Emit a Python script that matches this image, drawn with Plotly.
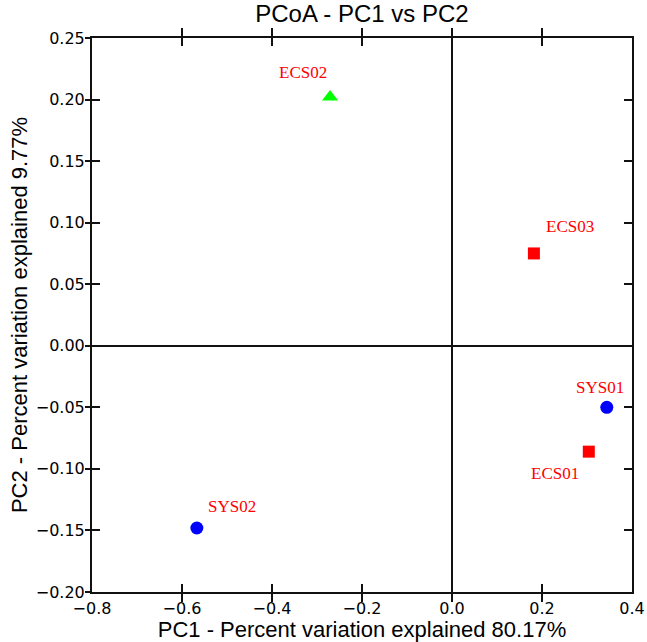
import plotly.graph_objects as go

samples = ["ECS01", "ECS02", "ECS03", "SYS01", "SYS02"]
pc1 = [0.304, -0.271, 0.182, 0.344, -0.567]
pc2 = [-0.086, 0.202, 0.075, -0.050, -0.148]
symbols = ["square", "triangle-up", "square", "circle", "circle"]
colors = ["#ff0000", "#00ff00", "#ff0000", "#0000ff", "#0000ff"]
label_dx = [-34, -27, 36, -7, 35]
label_dy = [-22, 25, 27, 20, 21]

xticks = [-0.8, -0.6, -0.4, -0.2, 0.0, 0.2, 0.4]
yticks = [-0.20, -0.15, -0.10, -0.05, 0.00, 0.05, 0.10, 0.15, 0.20, 0.25]

sym_size = {"square": 12, "triangle-up": 14, "circle": 13}

fig = go.Figure()
for sym in ["square", "triangle-up", "circle"]:
    idx = [i for i, s in enumerate(symbols) if s == sym]
    fig.add_trace(go.Scatter(
        x=[pc1[i] for i in idx], y=[pc2[i] for i in idx], mode="markers",
        marker=dict(symbol=sym, color=[colors[i] for i in idx], size=sym_size[sym],
                    opacity=1, line=dict(width=0)),
        showlegend=False, hoverinfo="text", text=[samples[i] for i in idx],
    ))
for s, x, y, dx, dy in zip(samples, pc1, pc2, label_dx, label_dy):
    fig.add_annotation(x=x, y=y, text=s, showarrow=False, xshift=dx, yshift=dy,
                       font=dict(family="Liberation Serif", size=17, color="#ff0000"))

tickfont = dict(family="DejaVu Sans", size=16, color="black")
axis_common = dict(
    showline=True, linecolor="#111111", linewidth=2, mirror="allticks",
    ticks="inside", ticklen=8, tickwidth=2, tickcolor="#111111",
    showgrid=False, zeroline=True, zerolinecolor="#111111", zerolinewidth=1.5,
    tickfont=tickfont, automargin=False,
)
fig.update_xaxes(range=[-0.8, 0.4], tickvals=xticks, tickformat=".1f",
                 ticklabelstandoff=1,
                 title=dict(text="PC1 - Percent variation explained 80.17%",
                            font=dict(family="Liberation Sans", size=22, color="black"), standoff=2),
                 **axis_common)
fig.update_yaxes(range=[-0.20, 0.25], tickvals=yticks, tickformat=".2f",
                 ticklabelstandoff=2,
                 title=dict(text="PC2 - Percent variation explained 9.77%",
                            font=dict(family="Liberation Sans", size=22, color="black"), standoff=2),
                 **axis_common)
# short outward tick stubs on the left axis (ticks cross the left spine)
fig.update_layout(yaxis2=dict(
    overlaying="y", side="left", range=[-0.20, 0.25], tickvals=yticks,
    ticks="outside", ticklen=6, tickwidth=2, tickcolor="#111111",
    showticklabels=False, showgrid=False, zeroline=False, showline=False,
    automargin=False,
))
fig.add_trace(go.Scatter(x=[None], y=[None], yaxis="y2", showlegend=False, hoverinfo="skip"))

fig.update_layout(
    width=647, height=642,
    margin=dict(l=92, r=15, t=38, b=50),
    paper_bgcolor="white", plot_bgcolor="white",
    title=dict(text="PCoA - PC1 vs PC2", x=0.5, xref="paper", xanchor="center",
               y=1, yref="container", yanchor="top", pad=dict(t=5),
               font=dict(family="Liberation Sans", size=24, color="black")),
)
fig.write_html("out.html")
